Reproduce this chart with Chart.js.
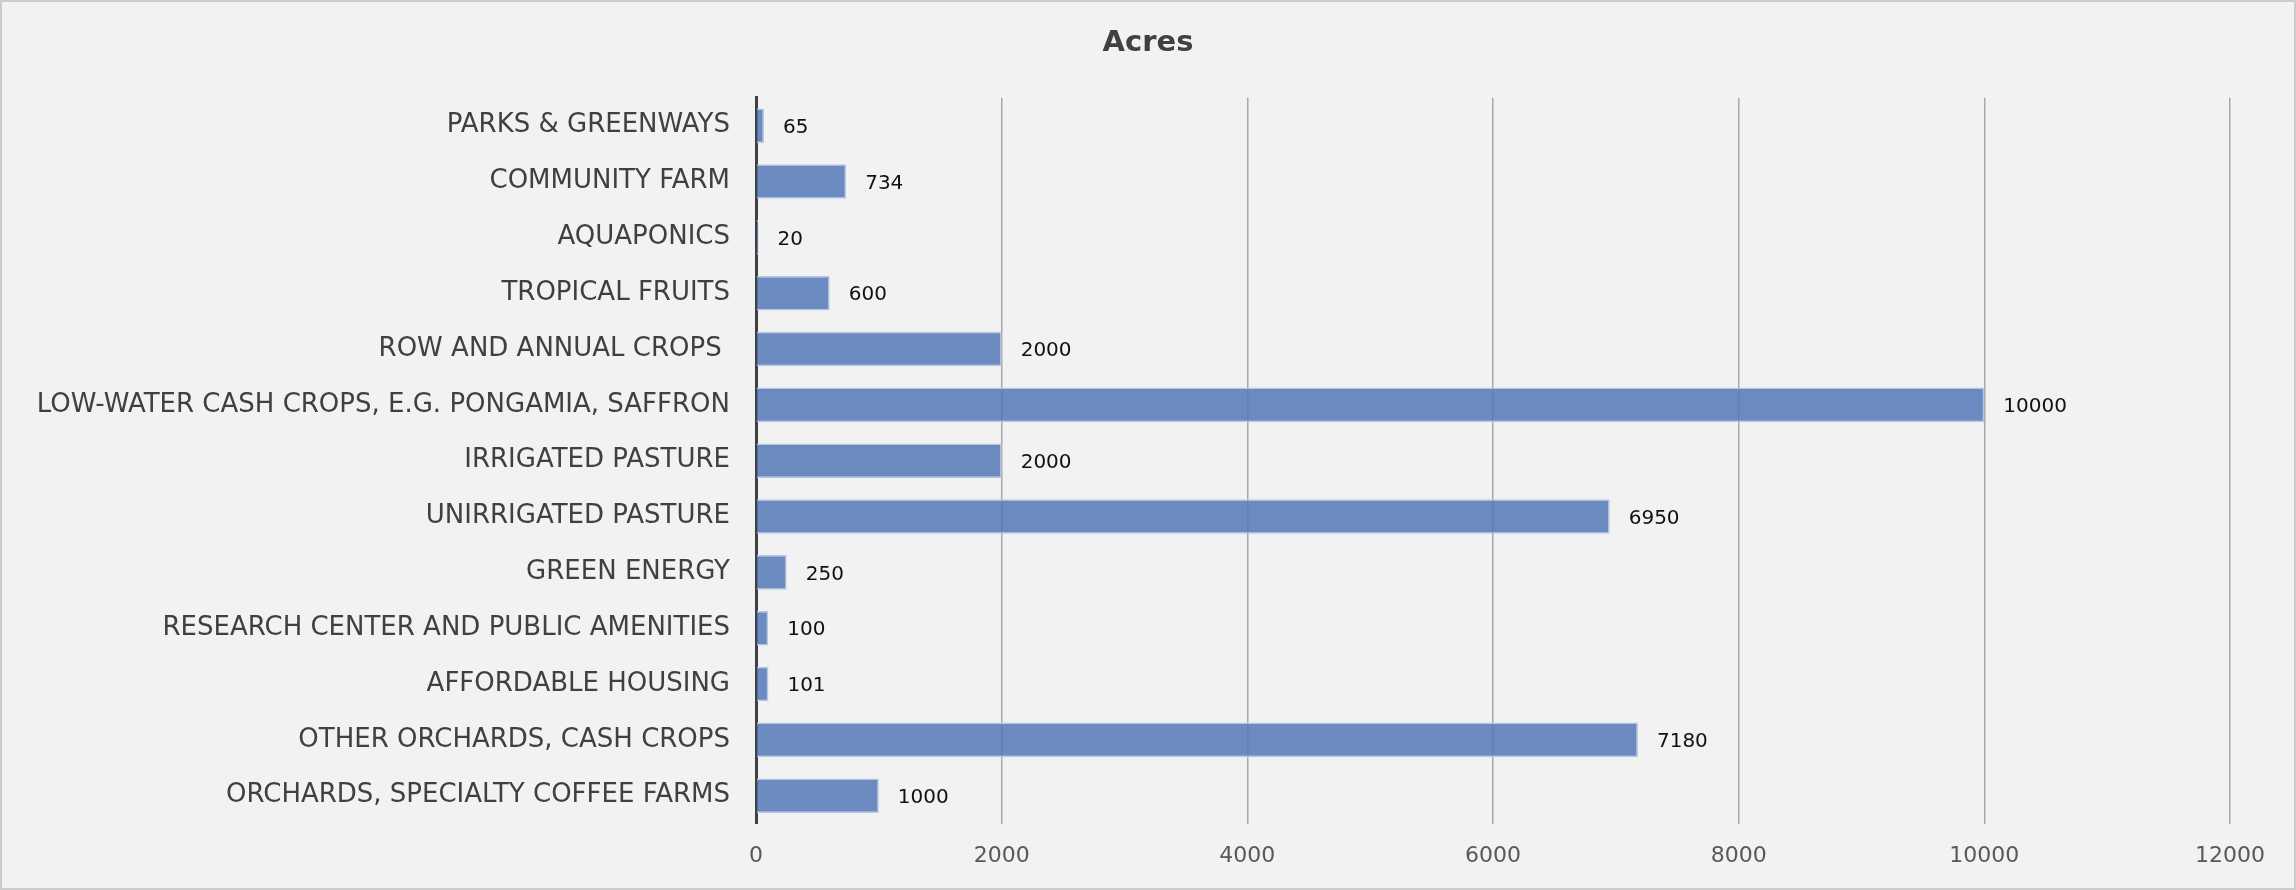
<!DOCTYPE html>
<html>
<head>
<meta charset="utf-8">
<script src="https://cdn.jsdelivr.net/npm/chart.js@4"></script>
<style>
  html, body { margin: 0; padding: 0; background: #f2f2f2; }
  #wrap {
    width: 2296px; height: 890px; box-sizing: border-box;
    border: 2px solid #cccccc; background: #f2f2f2;
  }
</style>
</head>
<body>
<div id="wrap"><canvas id="chart" width="2292" height="886"></canvas></div>
<script>
// land use breakdown, acres per category
const categories = [
    'PARKS & GREENWAYS',
    'COMMUNITY FARM',
    'AQUAPONICS',
    'TROPICAL FRUITS',
    'ROW AND ANNUAL CROPS ',
    'LOW-WATER CASH CROPS, E.G. PONGAMIA, SAFFRON',
    'IRRIGATED PASTURE',
    'UNIRRIGATED PASTURE',
    'GREEN ENERGY',
    'RESEARCH CENTER AND PUBLIC AMENITIES',
    'AFFORDABLE HOUSING',
    'OTHER ORCHARDS, CASH CROPS',
    'ORCHARDS, SPECIALTY COFFEE FARMS'
];
const acres = [65, 734, 20, 600, 2000, 10000, 2000, 6950, 250, 100, 101, 7180, 1000];
const xTicks = [0, 2000, 4000, 6000, 8000, 10000, 12000];

const FONT = "'DejaVu Sans', sans-serif";

// writes each bar's value just past its end
const valueLabels = {
    id: 'valueLabels',
    afterDatasetsDraw(chart) {
        const ctx = chart.ctx;
        const meta = chart.getDatasetMeta(0);
        ctx.save();
        ctx.font = '20px ' + FONT;
        ctx.fillStyle = '#111111';
        ctx.textAlign = 'left';
        ctx.textBaseline = 'middle';
        meta.data.forEach((bar, i) => {
            ctx.fillText(String(acres[i]), bar.x + 19, bar.y + 2);
        });
        ctx.restore();
    }
};

// padding is lopsided, so center the title over the whole canvas
const centerTitle = {
    id: 'centerTitle',
    afterLayout(chart) {
        if (chart.titleBlock) {
            chart.titleBlock.left = 0;
            chart.titleBlock.right = chart.width;
            chart.titleBlock.width = chart.width;
        }
    }
};

const ctx = document.getElementById('chart').getContext('2d');
new Chart(ctx, {
    type: 'bar',
    data: {
        labels: categories,
        datasets: [{
            label: 'Acres',
            data: acres,
            backgroundColor: 'rgba(83, 121, 183, 0.85)',
            borderColor: '#b4c6e4',
            borderWidth: 1.5,
            categoryPercentage: 1,
            barPercentage: 0.62
        }]
    },
    options: {
        indexAxis: 'y',
        responsive: false,
        animation: false,
        layout: { padding: { left: 10, right: 64, top: 0, bottom: 0 } },
        plugins: {
            legend: { display: false },
            tooltip: { enabled: false },
            title: {
                display: true,
                text: 'Acres',
                color: '#404040',
                font: { family: FONT, size: 29, weight: 'bold' },
                padding: { top: 24, bottom: 37 }
            }
        },
        scales: {
            x: {
                min: 0,
                max: 12000,
                afterBuildTicks(scale) {
                    scale.ticks = xTicks.map(v => ({ value: v }));
                },
                grid: {
                    drawTicks: false,
                    color: ctx => ctx.tick && ctx.tick.value === 0 ? 'rgba(0,0,0,0)' : '#a8a8a8',
                    lineWidth: 1.5
                },
                border: { display: false },
                ticks: {
                    color: '#595959',
                    padding: 19,
                    font: { family: FONT, size: 22 },
                    callback: v => String(v)
                }
            },
            y: {
                afterFit(scale) { scale.width = 744; },
                grid: { display: false, drawTicks: false },
                border: { display: true, color: '#404040', width: 3 },
                ticks: {
                    color: '#404040',
                    padding: 26,
                    autoSkip: false,
                    font: { family: FONT, size: 26 }
                }
            }
        }
    },
    plugins: [valueLabels, centerTitle]
});
</script>
</body>
</html>
